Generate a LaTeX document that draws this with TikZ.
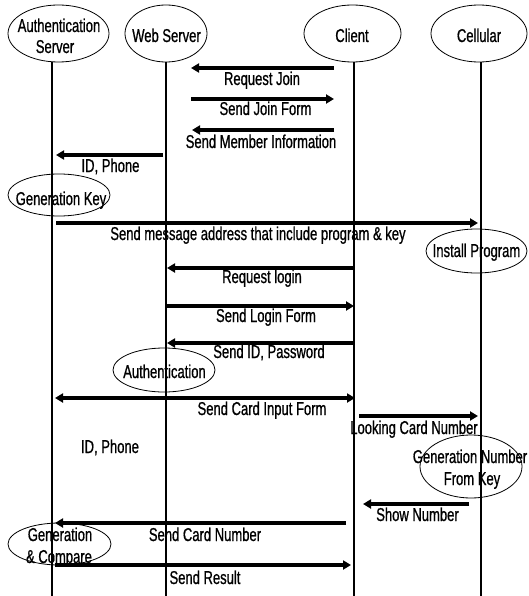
\documentclass[tikz,border=0pt]{standalone}
\usepackage{fontspec}
\setmainfont[FakeStretch=0.7,FakeBold=0.8]{Liberation Sans}
\usetikzlibrary{shapes.geometric,arrows.meta}
\begin{document}
\begin{tikzpicture}[x=1pt,y=-1pt,
  every node/.style={font=\fontsize{18.6}{21}\selectfont, inner sep=0pt, outer sep=0pt},
  oval/.style={draw, ellipse, line width=0.8pt},
  txt/.style={anchor=base, align=center},
  life/.style={line width=2pt},
  msg/.style={line width=3.5pt, -{Triangle[length=8pt,width=9pt]}},
  msgboth/.style={line width=3.5pt, {Triangle[length=8pt,width=9pt]}-{Triangle[length=8pt,width=9pt]}}]
\useasboundingbox (0,0) rectangle (528,596);

% participants
\node[oval, minimum width=101pt, minimum height=57pt] (authE) at (58.5,33.5) {};
\node[oval, minimum width=82pt, minimum height=57pt] (webE) at (166,33.5) {};
\node[oval, minimum width=97pt, minimum height=57pt] (cliE) at (352.5,33.5) {};
\node[oval, minimum width=96pt, minimum height=57pt] (cellE) at (479,33.5) {};
\node[txt] (authT1) at (59,32) {Authentication};
\node[txt] (authT2) at (55,53) {Server};
\node[txt] (webT) at (166.5,42) {Web Server};
\node[txt] (cliT) at (352,42) {Client};
\node[txt] (cellT) at (479,42) {Cellular};

% activities
\node[oval, minimum width=102pt, minimum height=42pt] (genKeyE) at (59,195) {};
\node[txt] (genKeyT) at (61,205) {Generation Key};
\node[oval, minimum width=101pt, minimum height=44pt] (installE) at (476.5,251) {};
\node[txt] (installT) at (476.5,257) {Install Program};
\node[oval, minimum width=102pt, minimum height=44pt] (authcE) at (164,370) {};
\node[txt] (authcT) at (164.5,378) {Authentication};
\node[oval, minimum width=102pt, minimum height=63pt] (genNumE) at (471,466.5) {};
\node[txt] (genNumT1) at (470,463) {Generation Number};
\node[txt] (genNumT2) at (472,485) {From Key};
\node[oval, minimum width=103pt, minimum height=42pt] (genCmpE) at (59.5,544) {};
\node[txt] (genCmpT1) at (60,541) {Generation};
\node[txt] (genCmpT2) at (59,563) {\& Compare};

% lifelines
\coordinate (aTop) at (51.5,62);  \coordinate (aBot) at (51.5,596);
\coordinate (wTop) at (166,62);   \coordinate (wBot) at (166,596);
\coordinate (cTop) at (354,62);   \coordinate (cBot) at (354,596);
\coordinate (eTop) at (481,62);   \coordinate (eBot) at (481,596);
\draw[life] (aTop) -- (aBot);
\draw[life] (wTop) -- (wBot);
\draw[life] (cTop) -- (cBot);
\draw[life] (eTop) -- (eBot);

% message end points
\coordinate (m1a) at (334,68);  \coordinate (m1b) at (191,68);
\coordinate (m2a) at (191,99);  \coordinate (m2b) at (334,99);
\coordinate (m3a) at (334,130); \coordinate (m3b) at (192,130);
\coordinate (m4a) at (163,155); \coordinate (m4b) at (56,155);
\coordinate (m5a) at (56,223);  \coordinate (m5b) at (478,223);
\coordinate (m6a) at (354,268); \coordinate (m6b) at (167,268);
\coordinate (m7a) at (166,306); \coordinate (m7b) at (354,306);
\coordinate (m8a) at (354,343); \coordinate (m8b) at (167,343);
\coordinate (m9a) at (55,398);  \coordinate (m9b) at (355,398);
\coordinate (m10a) at (359,416); \coordinate (m10b) at (478,416);
\coordinate (m11a) at (469,504); \coordinate (m11b) at (363,504);
\coordinate (m12a) at (346,523); \coordinate (m12b) at (55,523);
\coordinate (m13a) at (55,565);  \coordinate (m13b) at (351,565);

% messages
\draw[msg] (m1a) -- (m1b);
\draw[msg] (m2a) -- (m2b);
\draw[msg] (m3a) -- (m3b);
\draw[msg] (m4a) -- (m4b);
\draw[msg] (m5a) -- (m5b);
\draw[msg] (m6a) -- (m6b);
\draw[msg] (m7a) -- (m7b);
\draw[msg] (m8a) -- (m8b);
\draw[msgboth] (m9a) -- (m9b);
\draw[msg] (m10a) -- (m10b);
\draw[msg] (m11a) -- (m11b);
\draw[msg] (m12a) -- (m12b);
\draw[msg] (m13a) -- (m13b);

% message labels
\node[txt] (l1) at (262,85) {Request Join};
\node[txt] (l2) at (265.5,115) {Send Join Form};
\node[txt] (l3) at (261,148) {Send Member Information};
\node[txt] (l4) at (110.5,172) {ID, Phone};
\node[txt] (l5) at (258,240) {Send message address that include program \& key};
\node[txt] (l6) at (262,283) {Request login};
\node[txt] (l7) at (266,322) {Send Login Form};
\node[txt] (l8) at (269,358) {Send ID, Password};
\node[txt] (l9) at (262,415) {Send Card Input Form};
\node[txt] (l10) at (414,434) {Looking Card Number};
\node[txt] (l11) at (110,453) {ID, Phone};
\node[txt] (l12) at (417.5,521) {Show Number};
\node[txt] (l13) at (205,541) {Send Card Number};
\node[txt] (l14) at (205,584) {Send Result};
\end{tikzpicture}
\end{document}
